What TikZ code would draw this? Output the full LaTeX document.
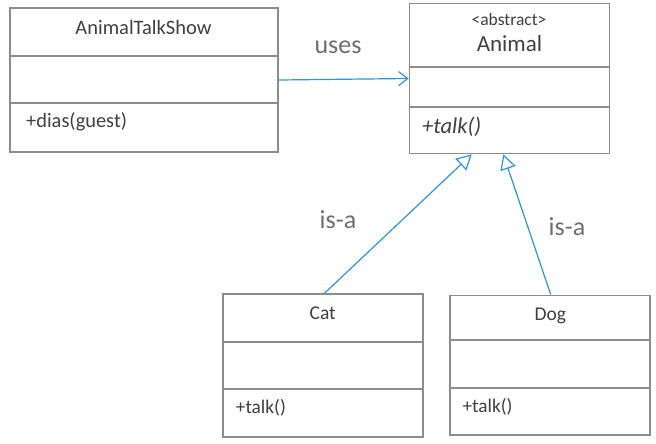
\documentclass[tikz,border=0pt]{standalone}
\usepackage{fontspec}
\setmainfont{Carlito}
\usetikzlibrary{arrows.meta}
\definecolor{boxgray}{RGB}{140,140,140}
\definecolor{txtgray}{RGB}{64,64,64}
\definecolor{lblgray}{RGB}{110,110,110}
\definecolor{linkblue}{RGB}{52,146,213}
\tikzset{
  umlbox/.style={draw=boxgray, line width=1.7pt, fill=white, rectangle, inner sep=0pt},
  divider/.style={draw=boxgray, line width=1.7pt},
  clsname/.style={anchor=base, text=txtgray, inner sep=0pt, font=\fontsize{20.5}{22}\selectfont},
  member/.style={anchor=base west, text=txtgray, inner sep=0pt, font=\fontsize{19.3}{21}\selectfont},
  relabel/.style={anchor=base, text=lblgray, inner sep=0pt, font=\fontsize{26}{28}\selectfont},
  usesarrow/.style={draw=linkblue, line width=1.2pt, -{Straight Barb[length=9pt,width=14pt]}},
  isaarrow/.style={draw=linkblue, line width=1.2pt, -{Triangle[open,length=15pt,width=16pt,fill=white]}}
}
\begin{document}
\begin{tikzpicture}[x=1pt,y=-1pt]
\useasboundingbox (0,0) rectangle (656,444);
% boxes
\node[umlbox, minimum width=268pt, minimum height=144pt] (ats) at (144,80) {};
\node[umlbox, minimum width=200pt, minimum height=150pt] (animal) at (509.5,78.5) {};
\node[umlbox, minimum width=199.4pt, minimum height=142.4pt] (cat) at (323,365.5) {};
\node[umlbox, minimum width=200pt, minimum height=139.7pt] (dog) at (550,365.2) {};
% dividers
\draw[divider] (ats.west |- 0,56) -- (ats.east |- 0,56);
\draw[divider] (ats.west |- 0,103) -- (ats.east |- 0,103);
\draw[divider] (animal.west |- 0,66.7) -- (animal.east |- 0,66.7);
\draw[divider] (animal.west |- 0,106.7) -- (animal.east |- 0,106.7);
\draw[divider] (cat.west |- 0,342) -- (cat.east |- 0,342);
\draw[divider] (cat.west |- 0,389.3) -- (cat.east |- 0,389.3);
\draw[divider] (dog.west |- 0,340.3) -- (dog.east |- 0,340.3);
\draw[divider] (dog.west |- 0,388) -- (dog.east |- 0,388);
% texts
\node[clsname] (atsname) at (143.5,34.3) {AnimalTalkShow};
\node[member, font=\fontsize{20.4}{22}\selectfont] (atsop) at (26,127) {+dias(guest)};
\node[clsname, font=\fontsize{17.5}{19}\selectfont] (abs) at (509,26) {<abstract>};
\node[clsname, font=\fontsize{23}{25}\selectfont] (animalname) at (509.5,51.7) {Animal};
\node[member, font=\fontsize{22.5}{24}\selectfont\itshape] (animalop) at (422,133.5) {+talk()};
\node[clsname, font=\fontsize{19.5}{21}\selectfont] (catname) at (322.7,319.3) {Cat};
\node[member] (catop) at (235.7,413) {+talk()};
\node[clsname, font=\fontsize{19.5}{21}\selectfont] (dogname) at (550.3,320.5) {Dog};
\node[member] (dogop) at (462.3,412) {+talk()};
% relation labels
\node[relabel] (useslbl) at (338,53.3) {uses};
\node[relabel] (isa1) at (338,228.3) {is-a};
\node[relabel] (isa2) at (567,235) {is-a};
% connectors
\draw[usesarrow] (ats.east) -- (animal.west);
\draw[isaarrow] ([xshift=1.3pt]cat.north) -- ([xshift=-37.8pt]animal.south);
\draw[isaarrow] ([xshift=0.7pt]dog.north) -- ([xshift=-6.2pt]animal.south);
\end{tikzpicture}
\end{document}
